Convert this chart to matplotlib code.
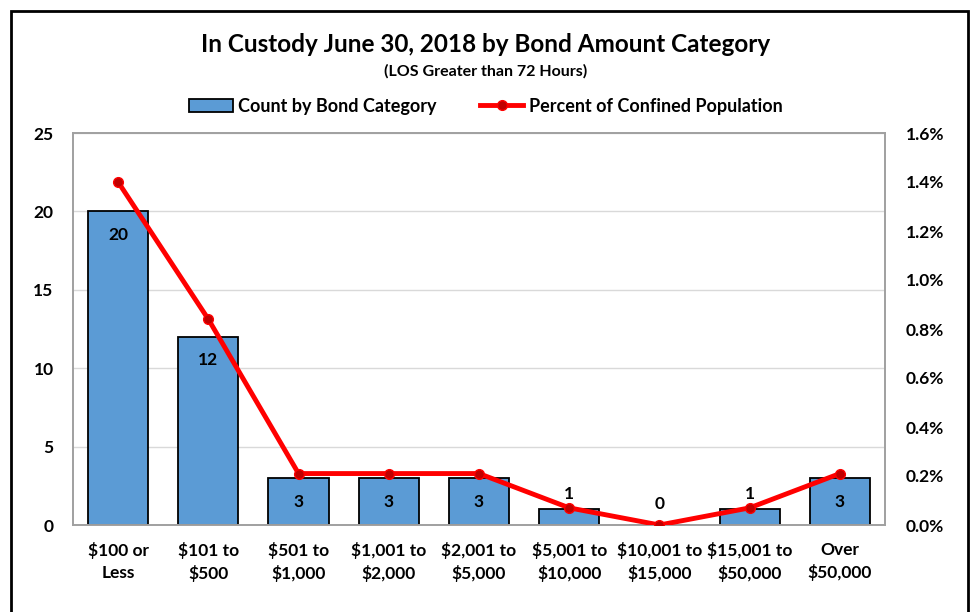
import matplotlib.pyplot as plt
from matplotlib.patches import Rectangle
from matplotlib.ticker import FuncFormatter

categories = ["$100 or\nLess", "$101 to\n$500", "$501 to\n$1,000", "$1,001 to\n$2,000",
              "$2,001 to\n$5,000", "$5,001 to\n$10,000", "$10,001 to\n$15,000",
              "$15,001 to\n$50,000", "Over\n$50,000"]
counts = [20, 12, 3, 3, 3, 1, 0, 1, 3]
percents = [1.40, 0.84, 0.21, 0.21, 0.21, 0.07, 0.0, 0.07, 0.21]
left_ticks = [0, 5, 10, 15, 20, 25]
right_ticks = [0.0, 0.2, 0.4, 0.6, 0.8, 1.0, 1.2, 1.4, 1.6]

plt.rcParams['font.family'] = ['Lato', 'DejaVu Sans']
plt.rcParams['font.weight'] = 'bold'

fig = plt.figure(figsize=(9.72, 6.12), dpi=100)
ax = fig.add_axes([73 / 972, 1 - 525 / 612, (885 - 73) / 972, (525 - 133) / 612])
ax2 = ax.twinx()

# черная рамка вокруг всей картинки
fig.patches.append(Rectangle((11 / 972, -0.05), (968 - 11) / 972, 1.05 - 11 / 612,
                             transform=fig.transFigure, fill=False, edgecolor='black', lw=2))

x = list(range(len(categories)))
ax.bar(x, counts, width=0.667, color='#5B9BD5', edgecolor='black', lw=1.3,
       label='Count by Bond Category', zorder=2)
ax.set_xlim(-0.5, len(categories) - 0.5)
ax.set_ylim(0, 25)
ax.set_yticks(left_ticks)
ax.set_xticks(x)
ax.set_xticklabels(categories, fontsize=12.5, fontweight='bold', linespacing=1.45)
ax.tick_params(axis='x', length=0, labelsize=12.5, pad=12)
ax.tick_params(axis='y', length=0, labelsize=12.5, pad=14)
ax.grid(axis='y', color='#D9D9D9', lw=1, zorder=0)
ax.set_axisbelow(True)

for i, c in enumerate(counts):
    if c >= 3:
        off = -17
    elif c == 0:
        off = 15
    else:
        off = 11
    ax.annotate(str(c), (i, c), xytext=(0, off), textcoords='offset points',
                ha='center', va='center', fontsize=12.5, fontweight='bold')

ax2.plot(x, percents, color='#FF0000', lw=3.5, marker='o', markersize=7,
         markerfacecolor='#C00000', markeredgecolor='#FF0000',
         label='Percent of Confined Population', zorder=3)
ax2.set_ylim(0, 1.6)
ax2.set_yticks(right_ticks)
ax2.yaxis.set_major_formatter(FuncFormatter(lambda v, p: f"{v:.1f}%"))
ax2.tick_params(length=0, labelsize=12.5, pad=15)

for a in (ax, ax2):
    for s in a.spines.values():
        s.set_color('#A0A0A0')
        s.set_linewidth(1.2)
    for lab in a.get_yticklabels():
        lab.set_fontweight('bold')

fig.text(0.5, 1 - 45 / 612, "In Custody June 30, 2018 by Bond Amount Category",
         ha='center', va='center', fontsize=17.5, fontweight='bold')
fig.text(0.5, 1 - 71 / 612, "(LOS Greater than 72 Hours)",
         ha='center', va='center', fontsize=11.5, fontweight='bold')

h1, l1 = ax.get_legend_handles_labels()
h2, l2 = ax2.get_legend_handles_labels()
fig.legend(h1 + h2, l1 + l2, loc='center', bbox_to_anchor=(0.5, 1 - 106 / 612), ncol=2,
           frameon=False, fontsize=13, handlelength=2.4, columnspacing=2.4, handletextpad=0.3)

fig.savefig('out.png', dpi=100)
